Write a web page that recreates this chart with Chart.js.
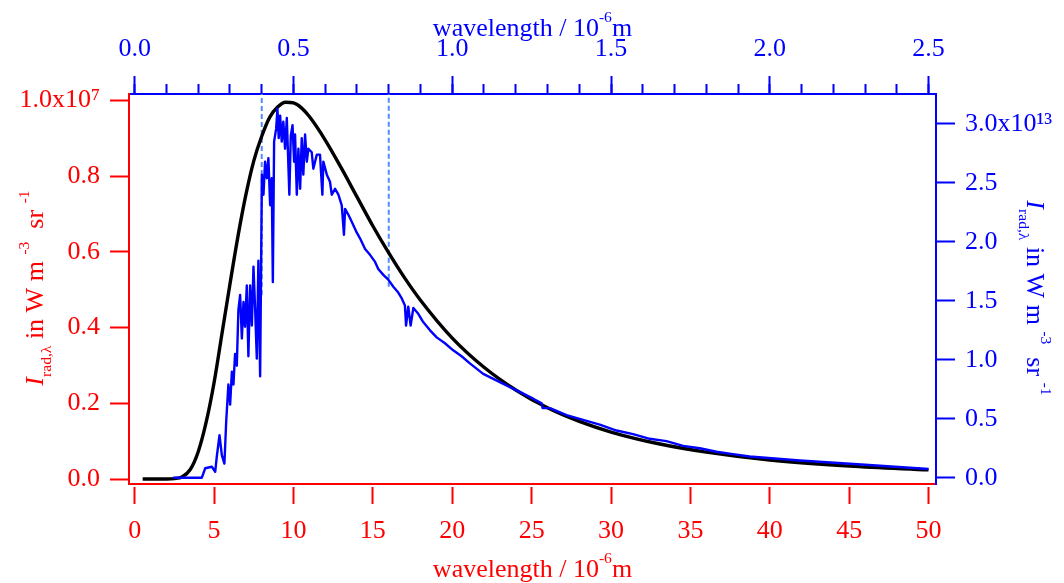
<!DOCTYPE html>
<html>
<head>
<meta charset="utf-8">
<script src="https://cdn.jsdelivr.net/npm/chart.js@4"></script>
<style>
html, body { margin: 0; padding: 0; background: #fff; }
#wrap { width: 1064px; height: 583px; }
</style>
</head>
<body>
<div id="wrap"><canvas id="chart" width="1064" height="583"></canvas></div>
<script>
// black body curve, bottom axis (10^-6 m) vs left axis (x10^7 W m^-3 sr^-1)
var planckWavelength = [0.5, 1, 2, 2.5, 3, 3.5, 4, 4.5, 5, 5.5, 6, 6.5, 7, 7.5, 8, 8.5, 9, 9.5, 10, 10.5, 11, 12, 13, 14, 15, 16, 17, 18, 20, 22, 24, 26, 28, 30, 33, 36, 40, 45, 50];
var planckRadiance = [0, 0, 0, 0.001, 0.006, 0.025, 0.072, 0.15, 0.255, 0.385, 0.515, 0.64, 0.75, 0.84, 0.905, 0.955, 0.982, 0.995, 0.993, 0.98, 0.957, 0.895, 0.822, 0.745, 0.668, 0.597, 0.531, 0.472, 0.372, 0.295, 0.235, 0.188, 0.152, 0.124, 0.093, 0.071, 0.05, 0.034, 0.024];

// measured spectrum, top axis (10^-6 m) vs right axis (x10^13 W m^-3 sr^-1)
var solarWavelength = [
  0.121, 0.2115, 0.222, 0.243, 0.2535, 0.2585, 0.267, 0.2745, 0.2825, 0.288,
  0.295, 0.3005, 0.306, 0.311, 0.316, 0.3215, 0.3265, 0.332, 0.3375, 0.3425,
  0.3475, 0.353, 0.358, 0.3635, 0.369, 0.374, 0.379, 0.3845, 0.3895, 0.395,
  0.4005, 0.4055, 0.4105, 0.416, 0.421, 0.4265, 0.4315, 0.435, 0.439, 0.4455,
  0.4495, 0.4535, 0.458, 0.463, 0.468, 0.4735, 0.479, 0.487, 0.4915, 0.497,
  0.502, 0.505, 0.5105, 0.5155, 0.521, 0.526, 0.531, 0.5365, 0.542, 0.547,
  0.5575, 0.5625, 0.5735, 0.5835, 0.591, 0.594, 0.605, 0.615, 0.6205, 0.631,
  0.6415, 0.652, 0.659, 0.6625, 0.673, 0.6835, 0.699, 0.7095, 0.7255, 0.741,
  0.757, 0.767, 0.783, 0.7985, 0.8145, 0.83, 0.841, 0.851, 0.8545, 0.8615,
  0.869, 0.8775, 0.893, 0.9085, 0.93, 0.951, 0.977, 1.003, 1.0295, 1.0555,
  1.0975, 1.15, 1.2025, 1.255, 1.2815, 1.2845, 1.3075, 1.36, 1.412, 1.4645,
  1.5175, 1.5695, 1.622, 1.6745, 1.727, 1.7795, 1.832, 1.884, 1.9365, 2.095,
  2.3, 2.5
];
var solarRadiance = [
  0, 0, 0.08, 0.093, 0.05, 0.18, 0.36, 0.19, 0.12, 0.47,
  0.79, 0.62, 0.9, 0.79, 1.05, 0.95, 1.42, 1.55, 1.18, 1.49,
  1.28, 1.63, 1.03, 1.63, 1.29, 1.79, 1.45, 1.01, 1.84, 0.86,
  2.57, 2.4, 2.68, 2.54, 2.71, 2.31, 2.54, 1.66, 2.85, 2.96,
  3.13, 2.88, 3.07, 2.85, 3.02, 2.79, 3.05, 2.4, 2.9, 2.99,
  2.68, 2.91, 2.4, 2.79, 2.45, 2.88, 2.57, 2.91, 2.68, 2.79,
  2.76, 2.62, 2.74, 2.74, 2.4, 2.68, 2.57, 2.51, 2.4, 2.45,
  2.4, 2.31, 2.06, 2.28, 2.23, 2.17, 2.08, 2.03, 1.94, 1.89,
  1.83, 1.77, 1.72, 1.68, 1.62, 1.57, 1.52, 1.46, 1.29, 1.45,
  1.29, 1.44, 1.39, 1.32, 1.25, 1.19, 1.14, 1.08, 1.03, 0.97,
  0.88, 0.81, 0.74, 0.67, 0.63, 0.59, 0.59, 0.53, 0.49, 0.45,
  0.4, 0.37, 0.33, 0.31, 0.27, 0.25, 0.22, 0.2, 0.18, 0.146,
  0.11, 0.074
];

// dotted markers (top axis units) and the spectrum value where each one stops
var markerWavelength = [0.4, 0.8];
var markerLow = [1.55, 1.62];

var leftTicks = [0, 0.2, 0.4, 0.6, 0.8, 1.0];
var rightTicks = [0, 0.5, 1.0, 1.5, 2.0, 2.5, 3.0];

var RED = '#ff0000';
var BLUE = '#0000ff';
var FONT = 'Liberation Serif';
var tickFont = { family: FONT, size: 26 };

function pts(xs, ys) {
  return xs.map(function (x, i) { return { x: x, y: ys[i] }; });
}

var datasets = [
  {
    label: 'spectrum', data: pts(solarWavelength, solarRadiance),
    xAxisID: 'x2', yAxisID: 'y2', borderColor: BLUE, borderWidth: 2.4,
    pointRadius: 0, borderJoinStyle: 'round', order: 0
  },
  {
    label: 'black body', data: pts(planckWavelength, planckRadiance),
    xAxisID: 'x', yAxisID: 'y', borderColor: '#000', borderWidth: 3.4,
    pointRadius: 0, cubicInterpolationMode: 'monotone', order: 1
  }
];
markerWavelength.forEach(function (w, i) {
  datasets.push({
    label: 'marker' + i, data: [{ x: w, y: markerLow[i] }, { x: w, y: 3.254 }],
    xAxisID: 'x2', yAxisID: 'y2', borderColor: 'rgb(80,140,250)', borderWidth: 2,
    borderDash: [5, 3], pointRadius: 0, order: 2
  });
});

function drawRich(ctx, parts, cx, cy, angle, color) {
  var base = 26, total = 0;
  var items = parts.map(function (p) {
    var size = (p.sup || p.sub) ? base * 0.6 : base;
    var font = (p.italic ? 'italic ' : '') + size + 'px "' + FONT + '"';
    ctx.font = font;
    var w = ctx.measureText(p.t).width;
    total += w;
    return { t: p.t, font: font, w: w, dy: p.sup ? -base * 0.55 : (p.sub ? base * 0.3 : 0) };
  });
  ctx.save();
  ctx.translate(cx, cy);
  ctx.rotate(angle);
  ctx.fillStyle = color;
  ctx.textBaseline = 'alphabetic';
  var x = -total / 2;
  items.forEach(function (it) {
    ctx.font = it.font;
    ctx.fillText(it.t, x, it.dy);
    x += it.w;
  });
  ctx.restore();
}

var wavelengthTitle = [{ t: 'wavelength / 10' }, { t: '-6', sup: true }, { t: 'm' }];
var radianceTitle = [
  { t: 'I', italic: true }, { t: 'rad,λ', sub: true }, { t: ' in W m ' },
  { t: '-3', sup: true }, { t: '  sr ' }, { t: '-1', sup: true }
];

var titles = {
  id: 'titles',
  afterDraw: function (chart) {
    var ctx = chart.ctx;
    var a = chart.chartArea;
    var mid = (a.left + a.right) / 2;
    // small gap between the bottom axis line and its tick marks
    ctx.save();
    ctx.fillStyle = '#fff';
    ctx.fillRect(a.left + 2, a.bottom + 1, a.right - a.left - 3, 2);
    ctx.restore();
    drawRich(ctx, wavelengthTitle, mid, 36, 0, BLUE);
    drawRich(ctx, wavelengthTitle, mid, 577, 0, RED);
    drawRich(ctx, radianceTitle, 43, 288, -Math.PI / 2, RED);
    drawRich(ctx, radianceTitle, 1027, 298, Math.PI / 2, BLUE);
  }
};

function axisStyle(color, tickLen) {
  return {
    grid: { drawOnChartArea: false, tickLength: tickLen, tickColor: color, tickWidth: 2 },
    border: { color: color, width: 2 }
  };
}

var xB = axisStyle(RED, 20), xT = axisStyle(BLUE, 18), xTm = axisStyle(BLUE, 10);
var yL = axisStyle(RED, 19), yR = axisStyle(BLUE, 19);
xTm.border.display = false;

new Chart(document.getElementById('chart'), {
  type: 'line',
  data: { datasets: datasets },
  plugins: [titles],
  options: {
    responsive: false,
    devicePixelRatio: 1,
    animation: false,
    layout: { padding: 0 },
    plugins: { legend: { display: false }, tooltip: { enabled: false } },
    scales: {
      x: {
        type: 'linear', position: 'bottom', min: -0.36, max: 50.47,
        ticks: { stepSize: 5, includeBounds: false, color: RED, font: tickFont, padding: 12,
          callback: function (v) { return String(v); } },
        grid: xB.grid, border: xB.border,
        afterFit: function (s) { s.height = 99; }
      },
      x2: {
        type: 'linear', position: 'top', weight: 1, min: -0.018, max: 2.5235,
        ticks: { stepSize: 0.5, includeBounds: false, color: BLUE, font: tickFont, padding: 11,
          callback: function (v) { return v.toFixed(1); } },
        grid: xT.grid, border: xT.border,
        afterFit: function (s) { s.height = 94; }
      },
      x2minor: {
        type: 'linear', position: 'top', weight: 0, min: -0.018, max: 2.5235,
        ticks: { stepSize: 0.1, includeBounds: false, display: false, autoSkip: false },
        grid: xTm.grid, border: xTm.border,
        afterFit: function (s) { s.height = 0; }
      },
      y: {
        type: 'linear', position: 'left', min: -0.0132, max: 1.0166,
        ticks: { stepSize: 0.2, includeBounds: false, color: RED, font: tickFont, padding: 10,
          callback: function (v) {
            var t = leftTicks.find(function (k) { return Math.abs(k - v) < 1e-6; });
            if (t === undefined) return '';
            return t === 1 ? '1.0x10\u2077' : t.toFixed(1);
          } },
        grid: yL.grid, border: yL.border,
        afterFit: function (s) { s.width = 129; }
      },
      y2: {
        type: 'linear', position: 'right', min: -0.0534, max: 3.254,
        ticks: { stepSize: 0.5, includeBounds: false, color: BLUE, font: tickFont, padding: 10,
          callback: function (v) {
            var t = rightTicks.find(function (k) { return Math.abs(k - v) < 1e-6; });
            if (t === undefined) return '';
            return t === 3 ? '3.0x10\u00b9\u00b3' : t.toFixed(1);
          } },
        grid: yR.grid, border: yR.border,
        afterFit: function (s) { s.width = 128; }
      }
    }
  }
});
</script>
</body>
</html>
